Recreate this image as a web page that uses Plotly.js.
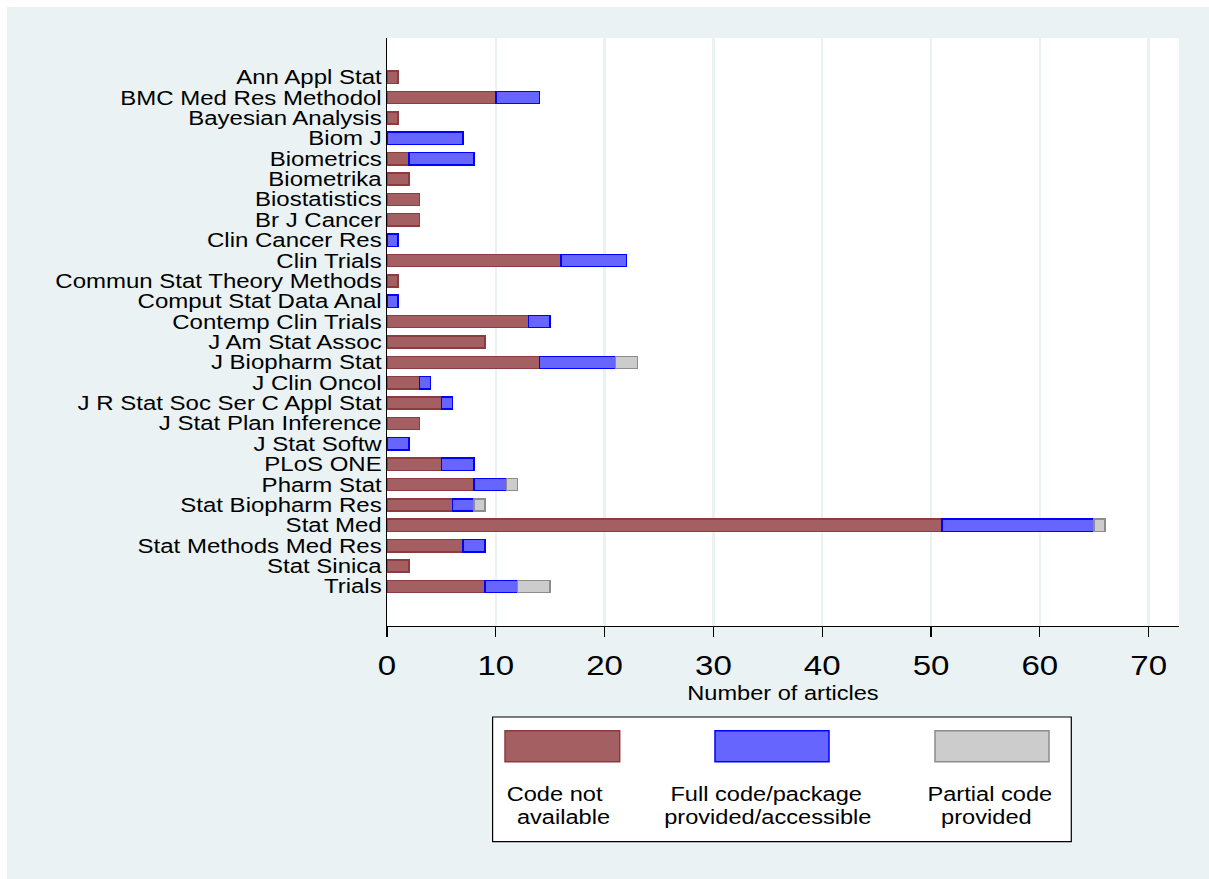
<!DOCTYPE html>
<html>
<head>
<meta charset="utf-8">
<script src="https://cdn.plot.ly/plotly-3.0.1.min.js"></script>
<style>
  html, body { margin: 0; padding: 0; background: #ffffff; overflow: hidden; }
  #chart { position: absolute; left: 7px; top: 7px; width: 1202px; height: 872px; }
</style>
</head>
<body>
<div id="chart"></div>
<script>
// ---- data ----
var journals = ["Ann Appl Stat","BMC Med Res Methodol","Bayesian Analysis","Biom J","Biometrics","Biometrika","Biostatistics","Br J Cancer","Clin Cancer Res","Clin Trials","Commun Stat Theory Methods","Comput Stat Data Anal","Contemp Clin Trials","J Am Stat Assoc","J Biopharm Stat","J Clin Oncol","J R Stat Soc Ser C Appl Stat","J Stat Plan Inference","J Stat Softw","PLoS ONE","Pharm Stat","Stat Biopharm Res","Stat Med","Stat Methods Med Res","Stat Sinica","Trials"];
var codeNotAvailable = [1,10,1,0,2,2,3,3,0,16,1,0,13,9,14,3,5,3,0,5,8,6,51,7,2,9];
var fullCode         = [0,4,0,7,6,0,0,0,1,6,0,1,2,0,7,1,1,0,2,3,3,2,14,2,0,3];
var partialCode      = [0,0,0,0,0,0,0,0,0,0,0,0,0,0,2,0,0,0,0,0,1,1,1,0,0,3];
var seriesNames = ["Code not available", "Full code/package provided/accessible", "Partial code provided"];
var legendLine1 = ["Code not", "Full code/package", "Partial code"];
var legendLine2 = ["available", "provided/accessible", "provided"];
var xTicks = [0,10,20,30,40,50,60,70];

// ---- styles ----
var FONT = "Liberation Sans, Arial, Helvetica, sans-serif";
var fills = ["#a45f62", "#6666ff", "#cccccc"];
var lines = ["#8c3b3f", "#0000ff", "#8c8c8c"];
var BG = "#eaf2f3";

// plot area geometry (px inside the div)
var L = 380, T = 31, W = 792, H = 588, FW = 1202, FH = 872;
function px(x) { return (x - L) / W; }
function py(y) { return (T + H - y) / H; }

function nz(arr) { return arr.map(function (v) { return v === 0 ? null : v; }); }

var seriesVals = [codeNotAvailable, fullCode, partialCode];
var traces = seriesVals.map(function (vals, i) {
  return {
    type: "bar", orientation: "h",
    y: journals, x: nz(vals), name: seriesNames[i],
    marker: { color: fills[i], line: { color: lines[i], width: 1.5 } },
    hoverinfo: "x+y+name"
  };
});

// custom legend (keys above two-line labels)
var shapes = [{
  type: "rect", xref: "paper", yref: "paper",
  x0: px(485.6), x1: px(1064.3), y0: py(834.7), y1: py(710),
  fillcolor: "#ffffff", line: { color: "#000000", width: 1.2 }, layer: "above"
}];
var keyX = [[498, 612.7], [708, 822], [928, 1042]];
keyX.forEach(function (k, i) {
  shapes.push({
    type: "rect", xref: "paper", yref: "paper",
    x0: px(k[0]), x1: px(k[1]), y0: py(754.7), y1: py(723.7),
    fillcolor: fills[i], line: { color: lines[i], width: 1.5 }, layer: "above"
  });
});

var line1X = [547.5, 759, 983];
var line2X = [556, 760.5, 979];
var annotations = [];
for (var i = 0; i < 3; i++) {
  annotations.push({ xref: "paper", yref: "paper", x: px(line1X[i]), y: py(786.7),
    xanchor: "center", yanchor: "middle", showarrow: false, text: legendLine1[i],
    font: { family: FONT, size: 20, color: "#000" } });
  annotations.push({ xref: "paper", yref: "paper", x: px(line2X[i]), y: py(810),
    xanchor: "center", yanchor: "middle", showarrow: false, text: legendLine2[i],
    font: { family: FONT, size: 20, color: "#000" } });
}

var layout = {
  width: FW, height: FH,
  paper_bgcolor: BG, plot_bgcolor: "#ffffff",
  margin: { l: L, r: FW - L - W, t: T, b: FH - T - H, pad: 0 },
  barmode: "stack", bargap: 0.4, showlegend: false,
  font: { family: FONT, color: "#000" },
  xaxis: {
    range: [0, 72.79], tickmode: "array", tickvals: xTicks, ticktext: xTicks.map(String),
    ticks: "outside", ticklen: 10, tickwidth: 1.3, tickcolor: "#000",
    showline: true, linecolor: "#000", linewidth: 1.3,
    showgrid: true, gridcolor: BG, gridwidth: 2.5, zeroline: false,
    tickfont: { family: FONT, size: 28, color: "#000" },
    ticklabelstandoff: 4,
    title: { text: "Number of articles", font: { family: FONT, size: 20.5, color: "#000" }, standoff: 4 },
    automargin: false, fixedrange: true
  },
  yaxis: {
    type: "category", categoryorder: "array", categoryarray: journals,
    tickmode: "array", tickvals: journals, ticktext: journals,
    range: [26.942, -1.924],
    ticks: "", showline: true, linecolor: "#000", linewidth: 1.3,
    showgrid: false, zeroline: false,
    tickfont: { family: FONT, size: 20, color: "#000" },
    automargin: false, fixedrange: true
  },
  shapes: shapes,
  annotations: annotations
};

function stretch(sel, f) {
  document.querySelectorAll(sel).forEach(function (t) {
    try {
      var w = t.getComputedTextLength();
      if (w > 0) {
        t.setAttribute("textLength", (w * f).toFixed(2));
        t.setAttribute("lengthAdjust", "spacingAndGlyphs");
      }
    } catch (e) {}
  });
}

Plotly.newPlot("chart", traces, layout, { displayModeBar: false, staticPlot: true }).then(function () {
  stretch("#chart .ytick text", 1.2);
  stretch("#chart .xtick text", 1.18);
  stretch("#chart .xtitle", 1.15);
  stretch("#chart .annotation-text", 1.18);
});
</script>
</body>
</html>
